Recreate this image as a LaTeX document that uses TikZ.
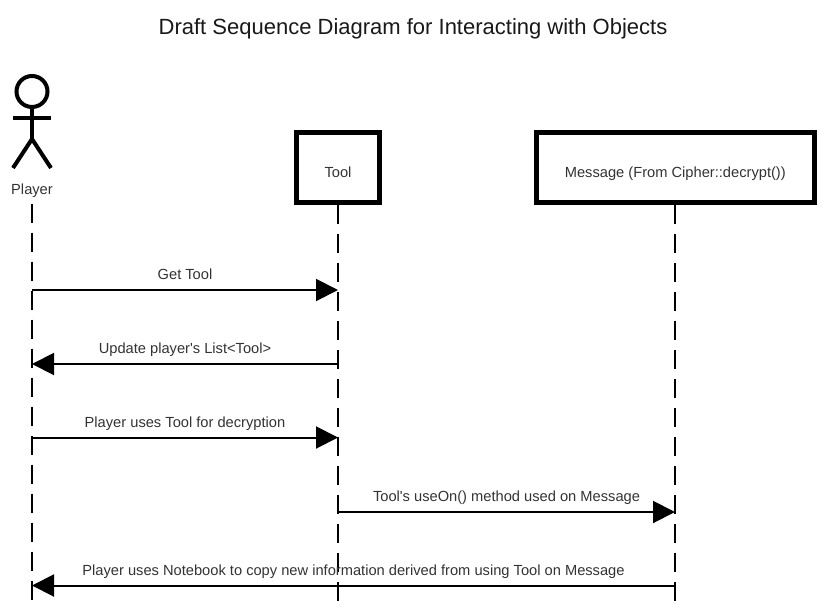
\documentclass[tikz,border=0pt]{standalone}
\usepackage{fontspec}
\setmainfont{Liberation Sans}
\usetikzlibrary{arrows.meta}

\begin{document}
\begin{tikzpicture}[x=1pt,y=-1pt,font=\fontsize{14.67}{16}\selectfont,text=black!80,
	msg/.style={-{Triangle[length=22pt,width=22pt]},line width=2pt,shorten >=0pt},
	msglabel/.style={anchor=base,yshift=10.5pt},
	life/.style={line width=2pt,dash pattern=on 19pt off 10pt,dash phase=0pt},
	obj/.style={draw=black,line width=4.6pt,fill=white,minimum height=70.4pt,inner sep=0pt,text height=22pt,text depth=2pt},
	actor/.style={line width=4pt,draw=black}]
	\useasboundingbox (0,0) rectangle (826,607);
	
	\node[anchor=base,text=black!90] (title) at (413,34.5) {\fontsize{22}{24}\selectfont Draft Sequence Diagram for Interacting with Objects};
	
	\draw[actor] (32,91.5) circle (15.5);
	\draw[actor] (13,118) -- (51,118);
	\draw[actor] (13,168) -- (32,139) -- (51,168);
	\draw[actor] (32,107) -- (32,139);
	\node[anchor=base] (player) at (32,194) {Player};
	
	\node[obj,minimum width=83.4pt] (tool) at (338,167.5) {Tool};
	\node[obj,minimum width=278pt] (message) at (675.3,167.5) {Message (From Cipher::decrypt())};
	
	\coordinate (playertop) at (32,203.5);
	\coordinate (playerend) at (32,602);
	\coordinate (toolend) at (338,602);
	\coordinate (messageend) at (675,602);
	
	\draw[life] (playertop) -- (playerend);
	\draw[life] (tool.south) -- (toolend);
	\draw[life] (message.south -| messageend) -- (messageend);
	
	\coordinate (p1) at (32,290);
	\coordinate (t1) at (338,290);
	\coordinate (p2) at (32,364);
	\coordinate (t2) at (338,364);
	\coordinate (p3) at (32,437.5);
	\coordinate (t3) at (338,437.5);
	\coordinate (t4) at (338,512);
	\coordinate (m4) at (675,512);
	\coordinate (p5) at (32,585.5);
	\coordinate (m5) at (675,585.5);
	
	\path[every edge/.style={draw,msg}]
	(p1) edge node [msglabel] {Get Tool} (t1)
	(t2) edge node [msglabel] {Update player\textquotesingle s List<Tool>} (p2)
	(p3) edge node [msglabel] {Player uses Tool for decryption} (t3)
	(t4) edge node [msglabel] {Tool\textquotesingle s useOn() method used on Message} (m4)
	(m5) edge node [msglabel] {Player uses Notebook to copy new information derived from using Tool on Message} (p5)
	;
\end{tikzpicture}
\end{document}
